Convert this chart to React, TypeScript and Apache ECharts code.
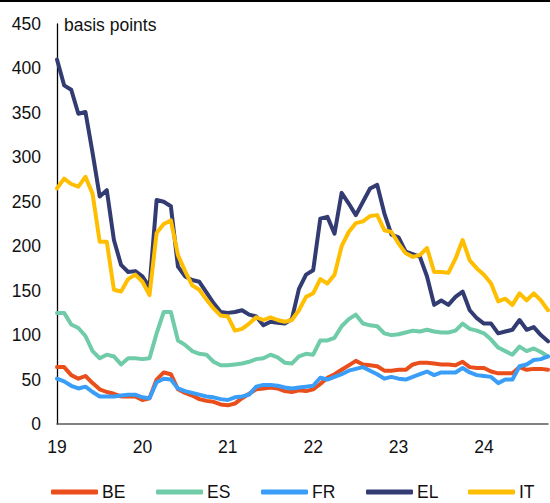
import React, { useEffect, useRef } from "react";
import * as echarts from "echarts";

const months: string[] = [];
for (let y = 2019; y <= 2024; y++) {
  for (let m = 1; m <= 12; m++) {
    if (y === 2024 && m > 10) break;
    months.push(`${y}-${m < 10 ? "0" + m : m}`);
  }
}

const BE = [
  64, 64, 55, 51, 54, 46, 39, 36, 34, 31, 31, 31,
  27, 29, 50, 58, 56, 39, 35, 32, 28, 26, 25, 22,
  21, 23, 29, 34, 39, 40, 41, 40, 37, 36, 38, 37,
  39, 45, 52, 56, 61, 66, 71, 67, 66, 65, 60, 60,
  61, 61, 67, 69, 69, 68, 67, 67, 66, 70, 64, 63,
  63, 59, 57, 57, 57, 64, 61, 62, 62, 61,
];
const ES = [
  125, 125, 112, 108, 99, 82, 74, 78, 76, 67, 74, 74,
  73, 74, 102, 126, 126, 94, 89, 82, 79, 78, 70, 66,
  66, 67, 68, 70, 73, 74, 78, 75, 69, 68, 76, 79,
  78, 94, 94, 97, 110, 118, 123, 113, 111, 110, 102, 100,
  101, 103, 105, 104, 106, 104, 103, 103, 105, 113, 107, 105,
  102, 95, 86, 82, 78, 87, 82, 85, 81, 76,
];
const FR = [
  51, 48, 43, 40, 42, 36, 31, 31, 31, 32, 33, 33,
  30, 29, 47, 51, 50, 40, 37, 35, 33, 31, 30, 28,
  27, 30, 31, 33, 42, 44, 44, 43, 41, 40, 41, 42,
  43, 52, 50, 53, 56, 60, 62, 64, 60, 56, 51, 53,
  51, 50, 53, 56, 59, 55, 58, 58, 58, 63, 58, 55,
  54, 53, 46, 50, 50, 65, 67, 72, 73, 76,
];
const EL = [
  410, 381, 376, 349, 351, 305, 256, 263, 207, 179, 171, 172,
  166, 154, 252, 250, 245, 177, 166, 162, 160, 148, 136, 126,
  125, 126, 128, 123, 121, 111, 115, 114, 113, 118, 152, 168,
  173, 231, 233, 214, 260, 248, 235, 250, 265, 269, 237, 213,
  210, 194, 191, 188, 166, 134, 139, 134, 143, 149, 128, 119,
  113, 113, 102, 104, 106, 117, 106, 109, 100, 93,
];
const IT = [
  265, 276, 270, 267, 278, 259, 205, 205, 151, 149, 163, 168,
  160, 145, 215, 225, 229, 190, 172, 156, 151, 140, 130, 122,
  121, 105, 107, 113, 120, 117, 120, 117, 115, 117, 128, 143,
  147, 163, 158, 168, 200, 216, 226, 228, 234, 235, 218, 216,
  203, 192, 188, 190, 198, 171, 171, 170, 186, 207, 184, 175,
  168, 158, 138, 141, 134, 147, 139, 147, 139, 128,
];

const seriesNames = ["BE", "ES", "FR", "EL", "IT"];
const seriesData = [BE, ES, FR, EL, IT];
const colors = ["#E94E1B", "#6FCBA8", "#3A9EF8", "#333C72", "#FFBE00"];
const legendLefts = [51, 156, 261, 366, 468];

const FONT = "'Liberation Sans', Arial, sans-serif";

export default function App() {
  const ref = useRef<HTMLDivElement>(null);
  useEffect(() => {
    if (!ref.current) return;
    const chart = echarts.init(ref.current, undefined, { renderer: "svg" });
    chart.setOption({
      animation: false,
      textStyle: { fontFamily: FONT },
      grid: { left: 57, right: 2, top: 24, bottom: 79, containLabel: false },
      xAxis: {
        type: "category",
        data: months,
        boundaryGap: false,
        axisLine: { show: true, lineStyle: { color: "#595959", width: 1.5 } },
        axisTick: { show: false },
        axisLabel: {
          interval: 11,
          margin: 14,
          color: "#111",
          fontSize: 17.5,
          fontFamily: FONT,
          formatter: (v: string) => v.slice(2, 4),
        },
        splitLine: { show: false },
      },
      yAxis: {
        type: "value",
        min: 0,
        max: 450,
        interval: 50,
        axisLine: { show: true, lineStyle: { color: "#000", width: 1.3 } },
        axisTick: { show: false },
        axisLabel: { margin: 16, color: "#111", fontSize: 17.5, fontFamily: FONT },
        splitLine: { show: false },
      },
      legend: seriesNames.map((n, i) => ({
        data: [{ name: n, icon: "roundRect" }],
        left: legendLefts[i],
        top: 483,
        itemWidth: 47,
        itemHeight: 5,
        itemGap: 0,
        padding: 0,
        textStyle: { fontSize: 17.5, color: "#111", fontFamily: FONT, padding: [0, 0, 0, -1] },
        selectedMode: false,
      })),
      graphic: [
        { type: "rect", left: 0, top: 0, shape: { width: 550, height: 2 }, style: { fill: "#000" } },
        {
          type: "text",
          left: 64,
          top: 16,
          style: { text: "basis points", fontSize: 17.5, fill: "#111", fontFamily: FONT },
        },
      ],
      series: seriesNames.map((n, i) => ({
        name: n,
        type: "line",
        data: seriesData[i],
        symbol: "none",
        showSymbol: false,
        lineStyle: { color: colors[i], width: 4, join: "round", cap: "round" },
        itemStyle: { color: colors[i] },
      })),
    });
    return () => chart.dispose();
  }, []);
  return (
    <div
      ref={ref}
      style={{ position: "fixed", left: 0, top: 0, width: 550, height: 503, background: "#fff" }}
    />
  );
}
